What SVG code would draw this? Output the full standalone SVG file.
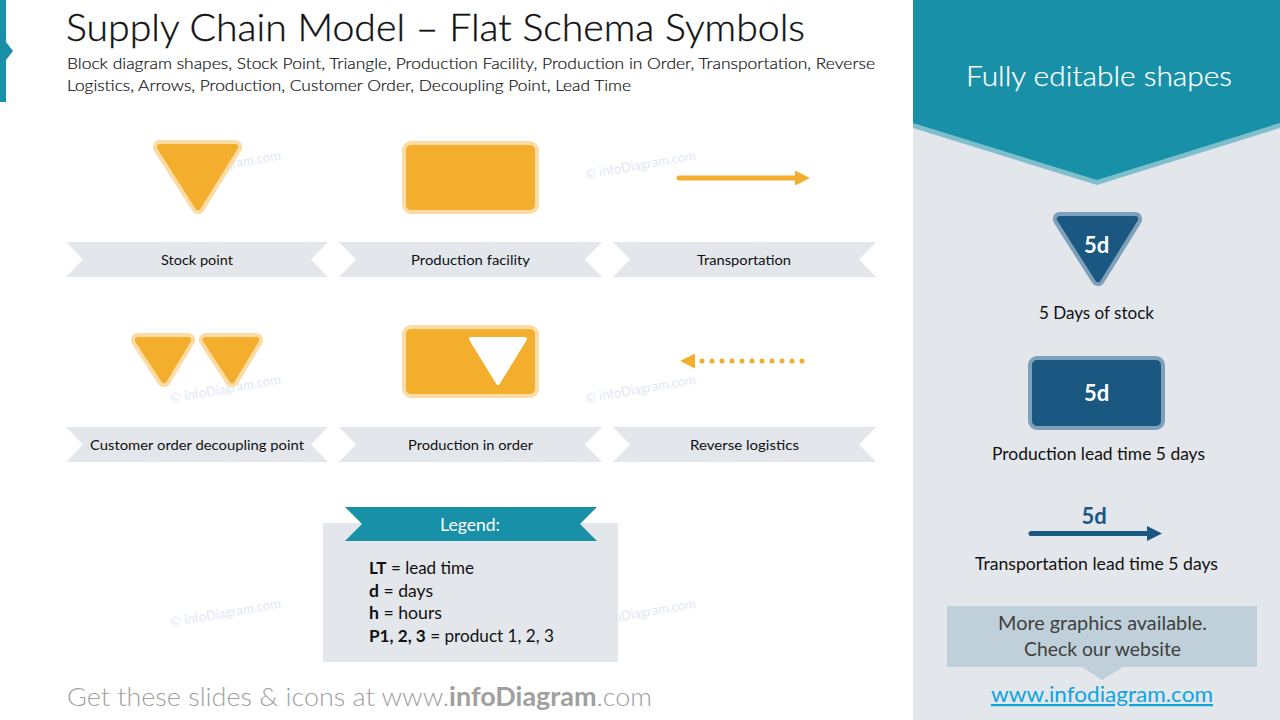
<svg xmlns="http://www.w3.org/2000/svg" width="1280" height="720" viewBox="0 0 1280 720">
<style>
text{font-family:"Lato","Liberation Sans",sans-serif;fill:#111}
.title{font-size:38px;font-weight:300;fill:#111;stroke:#111;stroke-width:.35}
.sub{font-size:16.5px;font-weight:300;fill:#111;stroke:#111;stroke-width:.2}
.rib{fill:#e3e6eb}
.lab{font-size:14px}
.leg{font-size:17px}
.wm{font-size:13.5px;fill:#dfe8f5}
.cap{font-size:17px}
.halo{fill:#fbdca4;stroke:#fbdca4;stroke-width:14;stroke-linejoin:round}
.core{fill:#f4ae2d;stroke:#f4ae2d;stroke-width:6;stroke-linejoin:round}
.halob{fill:#7fa0ba;stroke:#7fa0ba;stroke-width:14;stroke-linejoin:round}
.coreb{fill:#1a5882;stroke:#1a5882;stroke-width:6;stroke-linejoin:round}
.rh{fill:#f4ae2d;stroke:#fbdca4;stroke-width:4}
.rb{fill:#1a5882;stroke:#7fa0ba;stroke-width:4}
.d5{font-size:22px;font-weight:700;fill:#fff}
</style>
<defs>
<marker id="hy" viewBox="0 0 15 15" refX="0" refY="7.5" markerWidth="15" markerHeight="15" markerUnits="userSpaceOnUse" orient="auto"><polygon points="0,0 15,7.5 0,15" fill="#f4ae2d"/></marker>
<marker id="hb" viewBox="0 0 15 15" refX="0" refY="7.5" markerWidth="15" markerHeight="15" markerUnits="userSpaceOnUse" orient="auto"><polygon points="0,0 15,7.5 0,15" fill="#1a5882"/></marker>
</defs>
<rect width="1280" height="720" fill="#fff"/>
<g id="watermarks">
<text class="wm" transform="translate(171 179) rotate(-10)" textLength="112" lengthAdjust="spacingAndGlyphs">© infoDiagram.com</text>
<text class="wm" transform="translate(586 179) rotate(-10)" textLength="112" lengthAdjust="spacingAndGlyphs">© infoDiagram.com</text>
<text class="wm" transform="translate(171 403) rotate(-10)" textLength="112" lengthAdjust="spacingAndGlyphs">© infoDiagram.com</text>
<text class="wm" transform="translate(586 403) rotate(-10)" textLength="112" lengthAdjust="spacingAndGlyphs">© infoDiagram.com</text>
<text class="wm" transform="translate(171 627) rotate(-10)" textLength="112" lengthAdjust="spacingAndGlyphs">© infoDiagram.com</text>
<text class="wm" transform="translate(586 627) rotate(-10)" textLength="112" lengthAdjust="spacingAndGlyphs">© infoDiagram.com</text>
</g>
<g id="header">
<polygon points="0,0 6,0 6,42 13,51 6,60 6,102 0,102" fill="#1890a8"/>
<text class="title" x="66" y="41" textLength="739" lengthAdjust="spacingAndGlyphs">Supply Chain Model – Flat Schema Symbols</text>
<text class="sub" x="67" y="69" textLength="808" lengthAdjust="spacingAndGlyphs">Block diagram shapes, Stock Point, Triangle, Production Facility, Production in Order, Transportation, Reverse</text>
<text class="sub" x="67" y="91" textLength="564" lengthAdjust="spacingAndGlyphs">Logistics, Arrows, Production, Customer Order, Decoupling Point, Lead Time</text>
</g>
<g id="stock-point">
<polygon class="halo" points="159.800,147 235.200,147 198,207.100"/><polygon class="core" points="159.800,147 235.200,147 198,207.100"/>
</g>
<g id="production-facility"><rect class="rh" x="404" y="143" width="133" height="69" rx="7"/></g>
<g id="decoupling-point">
<polygon class="halo" points="137.800,340 188.200,340 164,380.100"/><polygon class="core" points="137.800,340 188.200,340 164,380.100"/>
<polygon class="halo" points="205.800,340 256.200,340 232,380.100"/><polygon class="core" points="205.800,340 256.200,340 232,380.100"/>
</g>
<g id="production-in-order">
<rect class="rh" x="404" y="327" width="133" height="69" rx="7"/>
<polygon points="471,339 525,339 498,383" fill="#fff" stroke="#fff" stroke-width="4" stroke-linejoin="round"/>
</g>
<g id="connectors">
<line x1="679" y1="178" x2="795" y2="178" stroke="#f4ae2d" stroke-width="5" stroke-linecap="round" marker-end="url(#hy)"/>
<line x1="802" y1="361" x2="695" y2="361" stroke="#f4ae2d" stroke-width="5" stroke-linecap="round" stroke-dasharray="0 10" marker-end="url(#hy)"/>
</g>
<g id="labels">
<polygon class="rib" points="66,242 328,242 311,259.5 328,277 66,277 83,259.5"/>
<polygon class="rib" points="339,242 602,242 585,259.5 602,277 339,277 356,259.5"/>
<polygon class="rib" points="613,242 876,242 859,259.5 876,277 613,277 630,259.5"/>
<polygon class="rib" points="66,427 328,427 311,444.5 328,462 66,462 83,444.5"/>
<polygon class="rib" points="339,427 602,427 585,444.5 602,462 339,462 356,444.5"/>
<polygon class="rib" points="613,427 876,427 859,444.5 876,462 613,462 630,444.5"/>
<text class="lab" x="161" y="265" textLength="72" lengthAdjust="spacingAndGlyphs">Stock point</text>
<text class="lab" x="411" y="265" textLength="119" lengthAdjust="spacingAndGlyphs">Production facility</text>
<text class="lab" x="697" y="265" textLength="94" lengthAdjust="spacingAndGlyphs">Transportation</text>
<text class="lab" x="90" y="450" textLength="214" lengthAdjust="spacingAndGlyphs">Customer order decoupling point</text>
<text class="lab" x="408" y="450" textLength="125" lengthAdjust="spacingAndGlyphs">Production in order</text>
<text class="lab" x="690" y="450" textLength="109" lengthAdjust="spacingAndGlyphs">Reverse logistics</text>
</g>
<g id="legend">
<rect x="323" y="523" width="295" height="139" fill="#e3e6eb"/>
<polygon points="345,507 597,507 580,524 597,541 345,541 362,524" fill="#1890a8"/>
<text x="440" y="531" font-size="17" style="fill:#fff" textLength="60" lengthAdjust="spacingAndGlyphs">Legend:</text>
<text class="leg" x="369" y="574" textLength="105" lengthAdjust="spacingAndGlyphs"><tspan font-weight="700">LT</tspan> = lead time</text>
<text class="leg" x="369" y="597" textLength="64" lengthAdjust="spacingAndGlyphs"><tspan font-weight="700">d</tspan> = days</text>
<text class="leg" x="369" y="619" textLength="73" lengthAdjust="spacingAndGlyphs"><tspan font-weight="700">h</tspan> = hours</text>
<text class="leg" x="369" y="642" textLength="185" lengthAdjust="spacingAndGlyphs"><tspan font-weight="700">P1, 2, 3</tspan> = product 1, 2, 3</text>
</g>
<g id="footer">
<text x="67" y="706" font-size="26" font-weight="300" style="fill:#a0a0a0" textLength="585" lengthAdjust="spacingAndGlyphs">Get these slides &amp; icons at www.<tspan font-weight="700">infoDiagram</tspan>.com</text>
</g>
<g id="panel">
<rect x="913" y="0" width="367" height="720" fill="#e3e6eb"/>
<polygon points="913,128 1097,185 1280,128 1280,100 913,100" fill="#7fbfcc"/>
<polygon points="913,0 1280,0 1280,123 1097,180 913,123" fill="#1890a8"/>
<text x="966" y="86" font-size="28" font-weight="300" style="fill:#fff;stroke:#fff;stroke-width:.25" textLength="266" lengthAdjust="spacingAndGlyphs">Fully editable shapes</text>
</g>
<g id="stock-5d">
<polygon class="halob" points="1059.800,219 1135.200,219 1098,279.100"/><polygon class="coreb" points="1059.800,219 1135.200,219 1098,279.100"/>
<text class="d5" x="1096.500" y="253" text-anchor="middle">5d</text>
<text class="cap" x="1039" y="319" textLength="115" lengthAdjust="spacingAndGlyphs">5 Days of stock</text>
</g>
<g id="production-5d">
<rect class="rb" x="1030" y="358" width="133" height="70" rx="7"/>
<text class="d5" x="1096.500" y="401" text-anchor="middle">5d</text>
<text class="cap" x="992" y="460" textLength="213" lengthAdjust="spacingAndGlyphs">Production lead time 5 days</text>
</g>
<g id="transport-5d">
<line x1="1031" y1="533.500" x2="1147" y2="533.500" stroke="#1a5882" stroke-width="5" stroke-linecap="round" marker-end="url(#hb)"/>
<text class="d5" x="1094" y="524" text-anchor="middle" style="fill:#1a5882">5d</text>
<text class="cap" x="975" y="570" textLength="243" lengthAdjust="spacingAndGlyphs">Transportation lead time 5 days</text>
</g>
<g id="more-graphics">
<polygon points="947,606 1257,606 1257,667 1123,667 1102,680 1082,667 947,667" fill="#bfd0db"/>
<text x="998" y="630" font-size="18.5" style="fill:#404040" textLength="209" lengthAdjust="spacingAndGlyphs">More graphics available.</text>
<text x="1024" y="656" font-size="18.5" style="fill:#404040" textLength="157" lengthAdjust="spacingAndGlyphs">Check our website</text>
<text x="991" y="702" font-size="22" style="fill:#0ea5dc" text-decoration="underline" textLength="222" lengthAdjust="spacingAndGlyphs">www.infodiagram.com</text>
</g>
</svg>
